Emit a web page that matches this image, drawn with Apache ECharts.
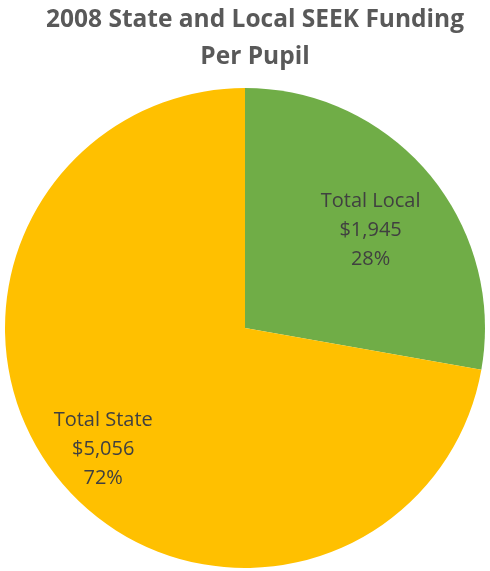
<!DOCTYPE html>
<html>
<head>
<meta charset="utf-8">
<script src="https://cdn.jsdelivr.net/npm/echarts@6/dist/echarts.min.js"></script>
<style>html,body{margin:0;padding:0;background:#fff;}#c{width:490px;height:571px;}</style>
</head>
<body>
<div id="c"></div>
<script>
const categories = ['Total Local', 'Total State'];
const values = [1945, 5056];
const colors = ['#70AD47', '#FFC000'];
const titleText = '2008 State and Local SEEK Funding\nPer Pupil';

const total = values.reduce((a, b) => a + b, 0);
const fmt = v => '$' + v.toLocaleString('en-US');
const labelText = (i) => categories[i] + '\n' + fmt(values[i]) + '\n' + Math.round(values[i] / total * 100) + '%';

const baseData = categories.map((c, i) => ({ name: c, value: values[i], itemStyle: { color: colors[i] } }));
const labelFont = { fontFamily: 'Open Sans, Lato, sans-serif', fontSize: 20, color: '#404040', lineHeight: 29 };

function labelSeries(idx, radius, offset) {
  return {
    type: 'pie', center: [245, 328], radius: radius, startAngle: 90, clockwise: true,
    silent: true, animation: false,
    data: categories.map((c, i) => ({
      name: c, value: values[i],
      itemStyle: { color: 'rgba(0,0,0,0)' },
      label: i === idx ? Object.assign({ show: true, position: 'inside', offset: offset, formatter: () => labelText(i) }, labelFont) : { show: false }
    })),
    labelLine: { show: false }
  };
}

const chart = echarts.init(document.getElementById('c'));
chart.setOption({
  animation: false,
  title: {
    text: titleText, left: 255, top: 2, padding: 0, textAlign: 'center',
    textStyle: { fontFamily: 'Open Sans, Lato, sans-serif', fontSize: 24.5, fontWeight: 'bold', color: '#595959', lineHeight: 37 }
  },
  series: [
    {
      type: 'pie', center: [245, 328], radius: [0, 240], startAngle: 90, clockwise: true,
      animation: false, data: baseData, label: { show: false }, labelLine: { show: false },
      itemStyle: { borderWidth: 0 }
    },
    labelSeries(0, [74, 240], [3, 5]),
    labelSeries(1, [132, 240], [3, 0])
  ]
});
</script>
</body>
</html>
